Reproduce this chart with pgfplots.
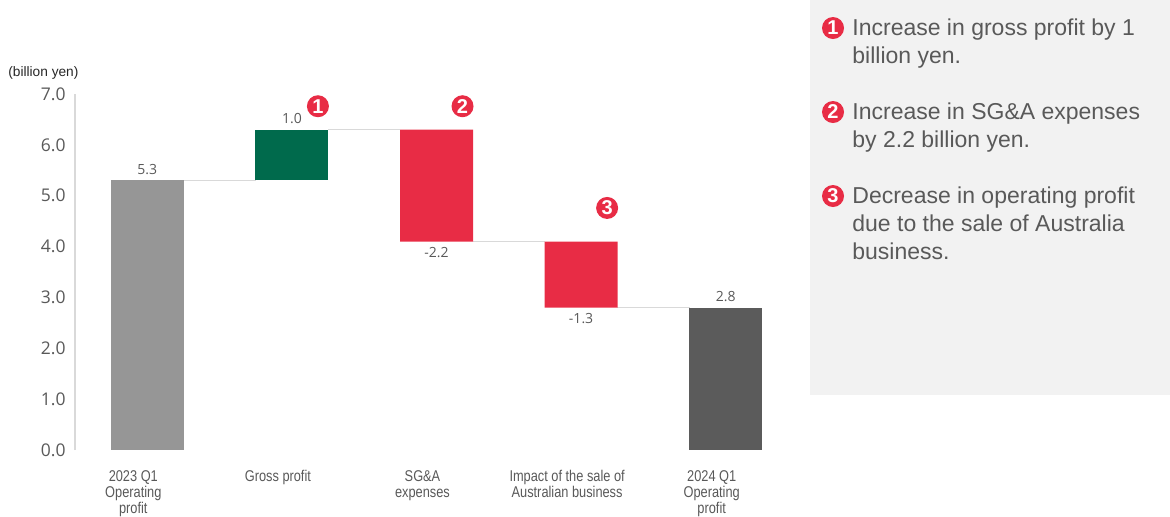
\documentclass[border=0pt]{standalone}
\usepackage{fontspec}
\setmainfont{Liberation Sans}
\newfontfamily\numfont{Open Sans}
\newfontfamily\narrowfont[FakeStretch=0.82]{Liberation Sans}
\usepackage{pgfplots}
\pgfplotsset{compat=1.18}
\definecolor{cgray}{RGB}{150,150,150}
\definecolor{cgreen}{RGB}{0,106,76}
\definecolor{cred}{RGB}{232,44,69}
\definecolor{cdark}{RGB}{91,91,91}
\definecolor{txt}{RGB}{89,89,89}
\definecolor{panel}{RGB}{242,242,242}
\definecolor{linegray}{RGB}{217,217,217}
\tikzset{badge/.style={circle, fill=cred, text=white, minimum size=11pt, inner sep=0pt, font=\bfseries\fontsize{10}{10}\selectfont},
  dlab/.style={font=\numfont\fontsize{7}{8}\selectfont, text=txt, inner sep=0pt},
  ptext/.style={anchor=base west, inner sep=0pt, text=txt, font=\fontsize{11.5}{14}\selectfont}}
\begin{document}
\begin{tikzpicture}
\useasboundingbox (0pt,0pt) rectangle (585pt,-258pt);
\fill[panel] (405pt,0pt) rectangle (585pt,-197.5pt);
\node[anchor=west,inner sep=0,font=\fontsize{6.85}{8}\selectfont,text=black!85] at (4pt,-36.5pt) {(billion yen)};
\begin{axis}[
  at={(37.5pt,-225pt)}, anchor=south west,
  scale only axis, width=361.5pt, height=178pt,
  xmin=-0.5, xmax=4.5, ymin=0, ymax=7,
  hide axis,
]
\addplot[linegray, line width=0.6pt] coordinates {(0.25,5.3) (0.75,5.3)};
\addplot[linegray, line width=0.6pt] coordinates {(1.25,6.3) (1.75,6.3)};
\addplot[linegray, line width=0.6pt] coordinates {(2.25,4.1) (2.75,4.1)};
\addplot[linegray, line width=0.6pt] coordinates {(3.25,2.8) (3.75,2.8)};
\end{axis}
\begin{axis}[
  at={(37.5pt,-225pt)}, anchor=south west,
  scale only axis, width=361.5pt, height=178pt,
  xmin=-0.5, xmax=4.5, ymin=0, ymax=7,
  axis lines=left,
  axis line style={-},
  x axis line style={draw=none},
  y axis line style={draw=linegray, line width=0.6pt},
  major tick length=0pt,
  ybar stacked, bar width=36.5pt,
  ytick={0,1,2,3,4,5,6,7},
  yticklabels={0.0,1.0,2.0,3.0,4.0,5.0,6.0,7.0},
  yticklabel style={anchor=east, inner sep=0pt, xshift=-4.5pt, text=txt,
     font=\numfont\fontsize{8.75}{10}\selectfont},
  xtick={0,1,2,3,4},
  xticklabels={{2023 Q1\\Operating\\profit},{Gross profit},{SG\&A\\expenses},{Impact of the sale of\\Australian business},{2024 Q1\\Operating\\profit}},
  xticklabel style={align=center, anchor=north, inner sep=0pt, yshift=-10pt, xshift=-7pt, text=txt,
     font=\narrowfont\fontsize{7.8}{8}\selectfont},
  clip=false,
]
\addplot[draw=none, fill=none] coordinates {(0,0) (1,5.3) (2,4.1) (3,2.8) (4,0)};
\addplot[draw=none, fill=cgray] coordinates {(0,5.3) (1,0) (2,0) (3,0) (4,0)};
\addplot[draw=none, fill=cgreen] coordinates {(0,0) (1,1.0) (2,0) (3,0) (4,0)};
\addplot[draw=none, fill=cred] coordinates {(0,0) (1,0) (2,2.2) (3,1.3) (4,0)};
\addplot[draw=none, fill=cdark] coordinates {(0,0) (1,0) (2,0) (3,0) (4,2.8)};
\node[dlab, yshift=5.5pt] at (axis cs:0,5.3) {5.3};
\node[dlab, yshift=5.5pt] at (axis cs:1,6.3) {1.0};
\node[dlab, yshift=-5.5pt] at (axis cs:2,4.1) {-2.2};
\node[dlab, yshift=-5.5pt] at (axis cs:3,2.8) {-1.3};
\node[dlab, yshift=5.5pt] at (axis cs:4,2.8) {2.8};
\node[badge] at (axis cs:1.18,6.76) {1};
\node[badge] at (axis cs:2.18,6.76) {2};
\node[badge] at (axis cs:3.18,4.76) {3};
\end{axis}
\node[badge] at (416.5pt,-14pt) {1};
\node[badge] at (416.5pt,-56pt) {2};
\node[badge] at (416.5pt,-98pt) {3};
\node[ptext] at (426pt,-17.5pt) {Increase in gross profit by 1};
\node[ptext] at (426pt,-31.5pt) {billion yen.};
\node[ptext] at (426pt,-59.5pt) {Increase in SG\&A expenses};
\node[ptext] at (426pt,-73.5pt) {by 2.2 billion yen.};
\node[ptext] at (426pt,-101.5pt) {Decrease in operating profit};
\node[ptext] at (426pt,-115.5pt) {due to the sale of Australia};
\node[ptext] at (426pt,-129.5pt) {business.};
\end{tikzpicture}
\end{document}
